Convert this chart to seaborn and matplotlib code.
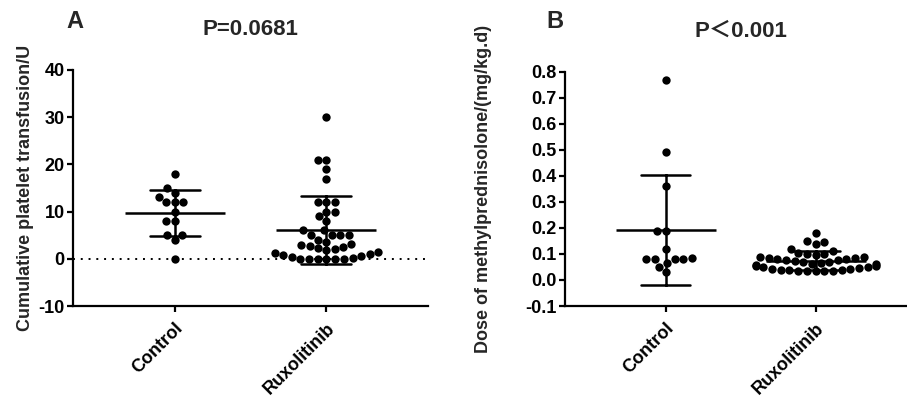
import pandas as pd
import matplotlib
matplotlib.use("Agg")
import matplotlib.pyplot as plt
import seaborn as sns

# ---- data ----
groups = ["Control", "Ruxolitinib"]

platelet_control = [18, 15, 14, 13, 12, 12, 12, 10, 8, 8, 5, 5, 4, 0]
platelet_ruxo = [30, 21, 21, 19, 17, 12, 12, 12, 10, 10, 9, 8, 6, 6, 5, 5, 5, 5,
                 4, 3.6, 3.2, 3, 2.8, 2.5, 2.2, 2, 1.8, 1.5, 1.3, 1, 0.8, 0.6,
                 0.4, 0.2, 0, 0, 0, 0, 0, 0]

mp_control = [0.77, 0.49, 0.36, 0.19, 0.19, 0.12, 0.08, 0.08, 0.08, 0.08,
              0.083, 0.064, 0.051, 0.03]
mp_ruxo = [0.18, 0.15, 0.145, 0.14, 0.12, 0.11, 0.105, 0.10, 0.10, 0.095,
           0.09, 0.09, 0.085, 0.085, 0.08, 0.08, 0.078, 0.075, 0.072, 0.07,
           0.068, 0.065, 0.062, 0.06, 0.058, 0.055, 0.052, 0.05, 0.048, 0.046,
           0.044, 0.042, 0.04, 0.04, 0.038, 0.036, 0.035, 0.035, 0.034, 0.033]

titles = ["P=0.0681", "P\uff1c0.001"]
ylabels = ["Cumulative platelet transfusion/U", "Dose of methylprednisolone/(mg/kg.d)"]
yticks_a = [-10, 0, 10, 20, 30, 40]
yticks_b = [-0.1, 0.0, 0.1, 0.2, 0.3, 0.4, 0.5, 0.6, 0.7, 0.8]


def to_long(ctrl, rux):
    return pd.DataFrame({
        "group": ["Control"] * len(ctrl) + ["Ruxolitinib"] * len(rux),
        "value": list(ctrl) + list(rux),
    })


sns.set_style("ticks")
plt.rcParams.update({
    "font.family": ["Liberation Sans", "Noto Sans CJK SC", "DejaVu Sans"],
    "font.weight": "bold",
    "axes.labelweight": "bold",
    "axes.unicode_minus": False,
    "axes.linewidth": 1.6,
    "xtick.major.width": 1.6,
    "ytick.major.width": 1.6,
    "xtick.major.size": 4,
    "ytick.major.size": 4,
    "xtick.color": "black",
    "ytick.color": "black",
    "axes.edgecolor": "black",
})


def panel(ax, df, title, ylabel, yticks, ylim, zero_line, labelpad):
    sns.swarmplot(data=df, x="group", y="value", order=groups, color="black",
                  size=6.0, linewidth=0, ax=ax, warn_thresh=1)
    sns.pointplot(data=df, x="group", y="value", order=groups, errorbar="sd",
                  capsize=0.33, color="black", linestyle="none", marker="_",
                  markersize=72, markeredgewidth=1.8,
                  err_kws={"linewidth": 1.8}, ax=ax)
    if zero_line:
        ax.axhline(0, color="black", linestyle=(0, (1, 3)), linewidth=1.4, zorder=0)
    ax.set_ylim(*ylim)
    ax.set_yticks(yticks)
    ax.set_xlim(-0.67, 1.67)
    ax.set_xlabel("")
    ax.set_ylabel(ylabel, fontsize=13, fontweight="bold", labelpad=labelpad)
    ax.set_title(title, fontsize=16, fontweight="bold", pad=25)
    ax.tick_params(axis="y", labelsize=13, pad=2)
    ax.tick_params(axis="x", labelsize=13, pad=6)
    for lab in ax.get_yticklabels():
        lab.set_fontweight("bold")
    for lab in ax.get_xticklabels():
        lab.set_rotation(45)
        lab.set_ha("right")
        lab.set_rotation_mode("anchor")
        lab.set_fontweight("bold")
    sns.despine(ax=ax)


fig = plt.figure(figsize=(9.07, 3.97), dpi=100)
ax_a = fig.add_axes([0.0805, 0.2292, 0.3914, 0.5945])
ax_b = fig.add_axes([0.623, 0.2292, 0.387, 0.590])

panel(ax_a, to_long(platelet_control, platelet_ruxo), titles[0], ylabels[0],
      yticks_a, (-10, 40), True, 3)
panel(ax_b, to_long(mp_control, mp_ruxo), titles[1], ylabels[1],
      yticks_b, (-0.1, 0.8), False, 24)
ax_b.set_yticklabels([f"{t:.1f}" for t in yticks_b], fontweight="bold")

fig.text(0.073, 0.929, "A", fontsize=17, fontweight="bold")
fig.text(0.602, 0.929, "B", fontsize=17, fontweight="bold")

fig.savefig("out.png", dpi=100)
